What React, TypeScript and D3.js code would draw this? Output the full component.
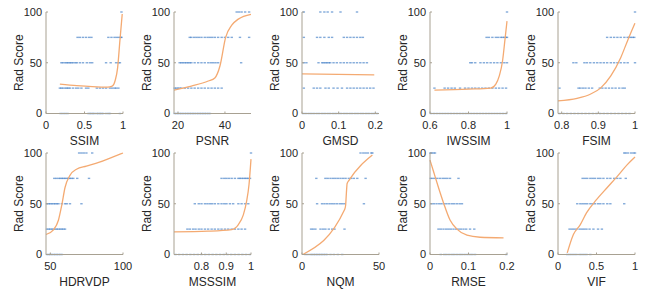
import React from 'react';
import * as d3 from 'd3';

type Levels = Record<number, number[]>;
type Fit = [number, number][];

const SCORE_DOMAIN: [number, number] = [0, 100];
const SCORE_TICKS = [0, 50, 100];
const Y_LABEL = 'Rad Score';

// ---- SSIM ----
const SSIM_PTS: Levels = {
  100: [0.98],
  75: [0.41, 0.44, 0.48, 0.52, 0.56, 0.59, 0.81, 0.85, 0.89, 0.92, 0.95, 0.97, 0.98],
  50: [0.2, 0.22, 0.25, 0.27, 0.29, 0.31, 0.33, 0.35, 0.38, 0.4, 0.44, 0.48, 0.53, 0.57, 0.6, 0.78, 0.84, 0.91, 0.94, 0.96],
  25: [0.18, 0.2, 0.22, 0.25, 0.27, 0.29, 0.31, 0.35, 0.39, 0.42, 0.46, 0.52, 0.55, 0.66, 0.7, 0.74, 0.78, 0.83, 0.86, 0.89, 0.91, 0.94],
  0: [0.19, 0.22, 0.25, 0.28, 0.55, 0.57, 0.59, 0.61, 0.63, 0.66, 0.68, 0.7, 0.72, 0.74, 0.78, 0.81, 0.83, 0.96],
};
const SSIM_FIT: Fit = [[0.18, 29], [0.4, 27.5], [0.6, 26.5], [0.8, 26], [0.86, 27], [0.9, 33], [0.93, 45], [0.96, 72], [0.99, 98]];

// ---- PSNR ----
const PSNR_PTS: Levels = {
  100: [45.0, 46.0, 47.1, 48.6, 50.3],
  75: [25.0, 25.7, 26.9, 27.9, 28.9, 30.0, 31.4, 32.6, 33.6, 34.6, 35.7, 37.1, 38.6, 40.0, 41.4, 42.9, 46.4, 50.3],
  50: [20.7, 21.4, 22.1, 22.9, 23.6, 24.3, 25.0, 25.7, 27.1, 28.6, 30.0, 31.4, 32.9, 34.0, 35.0, 36.0, 37.1, 46.9],
  25: [18.6, 19.3, 20, 20.7, 21.4, 22.9, 24.3, 25.7, 27.1, 28.6, 30, 31.4, 32.9, 34.3, 35.7, 37.1, 38.6],
  0: [18.6, 19.3, 20, 20.7, 21.4, 22.1, 22.9, 23.6, 24.3, 25, 25.7, 26.4, 27.1, 27.9, 28.6, 29.3, 30, 30.7, 31.4, 32.1, 32.9, 33.6],
};
const PSNR_FIT: Fit = [[18.3, 23], [25.7, 27], [32.9, 32], [35.7, 35], [37.9, 47], [40.3, 75], [42.9, 87], [45.7, 93], [51.1, 97.7]];

// ---- GMSD ----
const GMSD_PTS: Levels = {
  100: [0.005, 0.05, 0.061, 0.07, 0.082, 0.105, 0.15],
  75: [0.005, 0.041, 0.05, 0.061, 0.073, 0.082, 0.114, 0.123, 0.132, 0.141, 0.15, 0.159, 0.166],
  50: [0.005, 0.012, 0.045, 0.055, 0.059, 0.064, 0.068, 0.073, 0.077, 0.086, 0.095, 0.105, 0.114, 0.123, 0.132, 0.141, 0.15, 0.159, 0.168, 0.177],
  25: [0.005, 0.032, 0.041, 0.05, 0.064, 0.073, 0.086, 0.097, 0.109, 0.123, 0.132, 0.141, 0.15, 0.159, 0.168, 0.177, 0.186, 0.195],
  0: [0.003, 0.01, 0.018, 0.025, 0.032, 0.04, 0.047, 0.055, 0.062, 0.07, 0.077, 0.085, 0.092, 0.1, 0.107, 0.115, 0.122, 0.13, 0.137, 0.145, 0.152, 0.16, 0.167, 0.175, 0.182, 0.19, 0.197, 0.205],
};
const GMSD_FIT: Fit = [[0, 39], [0.197, 38]];

// ---- IWSSIM ----
const IWSSIM_PTS: Levels = {
  100: [1.0],
  75: [0.894, 0.906, 0.924, 0.942, 0.954, 0.968, 0.977, 0.986, 0.995, 1.0],
  50: [0.809, 0.818, 0.835, 0.862, 0.88, 0.897, 0.915, 0.933, 0.95, 0.968, 0.986, 1.0],
  25: [0.623, 0.676, 0.694, 0.712, 0.729, 0.756, 0.782, 0.8, 0.818, 0.835, 0.853, 0.871, 0.888, 0.906, 0.924, 0.942, 0.959, 0.977, 0.995],
  0: [0.605, 0.62, 0.635, 0.65, 0.665, 0.68, 0.695, 0.71, 0.725, 0.74, 0.755, 0.77, 0.785, 0.8, 0.815, 0.83, 0.845, 0.86, 0.875, 0.89, 0.905, 0.92, 0.935, 0.95, 0.965, 0.98, 0.995],
};
const IWSSIM_FIT: Fit = [[0.623, 23], [0.8, 24], [0.915, 25], [0.942, 29], [0.96, 37], [0.977, 52], [0.989, 72], [1.0, 91]];

// ---- FSIM ----
const FSIM_PTS: Levels = {
  100: [1.0],
  75: [0.924, 0.934, 0.943, 0.952, 0.961, 0.971, 0.98, 0.984, 0.989, 0.994, 0.998],
  50: [0.832, 0.84, 0.862, 0.869, 0.878, 0.888, 0.897, 0.906, 0.915, 0.924, 0.934, 0.943, 0.952, 0.961, 0.971, 0.98, 1.0],
  25: [0.794, 0.846, 0.851, 0.858, 0.865, 0.874, 0.883, 0.904, 0.911, 0.92, 0.929, 0.938, 0.947, 0.957, 0.966, 0.972],
  0: [0.794, 0.805, 0.815, 0.825, 0.835, 0.845, 0.855, 0.865, 0.875, 0.885, 0.895, 0.905, 0.915, 0.925, 0.935, 0.945, 0.955, 0.965, 0.975, 0.985],
};
const FSIM_FIT: Fit = [[0.79, 12.5], [0.842, 15], [0.878, 19], [0.906, 25], [0.934, 37], [0.961, 55], [0.98, 72], [1.0, 89]];

// ---- HDRVDP ----
const HDRVDP_PTS: Levels = {
  100: [69.8, 71.4, 73, 74.8, 78.8],
  75: [52.7, 54.1, 55.6, 56.8, 57.9, 59, 60.1, 61.3, 62.4, 63.5, 64.6, 65.8, 68.5, 76.6],
  50: [47.7, 48.9, 50, 51.1, 52.3, 53.4, 54.5, 55.6, 57.9, 60.1, 61.3, 63.5, 71.4],
  25: [47.7, 48.9, 50, 51.1, 52.3, 53.4, 54.5, 55.6, 56.8, 57.9, 59, 60.1],
  0: [47.7, 48.9, 50, 51.1, 52.3, 53.4, 54.5, 55.6, 56.8, 57.9],
};
const HDRVDP_FIT: Fit = [[47, 19.7], [52.3, 24.6], [55.6, 34], [57.9, 49], [60.1, 66], [63.5, 78], [68, 84], [74.8, 87], [83.8, 91], [92.8, 96], [100, 100]];

// ---- MSSSIM ----
const MSSSIM_PTS: Levels = {
  100: [1.0],
  75: [0.881, 0.892, 0.901, 0.911, 0.922, 0.935, 0.949, 0.955, 0.962, 0.969, 0.976, 0.982, 0.989, 0.996],
  50: [0.773, 0.789, 0.8, 0.814, 0.824, 0.834, 0.843, 0.854, 0.868, 0.881, 0.892, 0.901, 0.915, 0.928, 0.949, 0.962, 0.976, 0.989],
  25: [0.743, 0.753, 0.766, 0.776, 0.789, 0.8, 0.814, 0.827, 0.841, 0.854, 0.868, 0.881, 0.895, 0.908, 0.922, 0.935, 0.949, 0.962, 0.976],
  0: [0.695, 0.71, 0.725, 0.74, 0.755, 0.77, 0.785, 0.8, 0.815, 0.83, 0.845, 0.86, 0.875, 0.89, 0.905, 0.92, 0.935, 0.95, 0.965, 0.98, 0.995],
};
const MSSSIM_FIT: Fit = [[0.689, 22.3], [0.827, 23], [0.922, 24.6], [0.949, 29.5], [0.969, 39], [0.982, 52], [0.992, 69], [1.0, 94]];

// ---- NQM ----
const NQM_PTS: Levels = {
  100: [38, 39.8, 41.3, 42.8, 45, 45.7],
  75: [9.3, 15.2, 16.7, 18.5, 20.2, 21.7, 23.3, 25, 26.7, 28.3, 30.4, 32, 33.7, 35.9, 41.3],
  50: [9.8, 13, 14.6, 16.3, 18, 19.6, 21.1, 22.8, 24.6, 26.1, 27.6, 40.2],
  25: [5.9, 7.2, 8.7, 12, 13.7, 15.2, 17.4, 19.6, 21.1, 27.6],
  0: [2.2, 3.7, 5.4, 6.5, 7.6, 8.7, 9.8, 10.9, 12, 13, 14.1, 15.2, 16.3, 18.5, 20.7, 23.3, 26.1],
};
const NQM_FIT: Fit = [[0.6, 0], [27.6, 44], [28.3, 48], [28.8, 60], [29.3, 70], [30.5, 73], [45.7, 98]];

// ---- RMSE ----
const RMSE_PTS: Levels = {
  100: [0.001, 0.004, 0.009, 0.013],
  75: [0.002, 0.007, 0.013, 0.019, 0.026, 0.033, 0.039, 0.045, 0.052, 0.074],
  50: [0.004, 0.01, 0.017, 0.024, 0.03, 0.037, 0.043, 0.05, 0.057, 0.063, 0.07, 0.077, 0.083],
  25: [0.022, 0.028, 0.035, 0.042, 0.048, 0.054, 0.061, 0.068, 0.074, 0.08, 0.087, 0.094, 0.104, 0.115],
  0: [0.028, 0.037, 0.043, 0.05, 0.057, 0.063, 0.07, 0.077, 0.083, 0.09, 0.097, 0.104, 0.11, 0.117, 0.198],
};
const RMSE_FIT: Fit = [[0, 93], [0.009, 82], [0.022, 66], [0.035, 51], [0.052, 34], [0.07, 25], [0.096, 19], [0.13, 17], [0.191, 16.4]];

// ---- VIF ----
const VIF_PTS: Levels = {
  100: [0.86, 0.88, 0.91, 0.95, 0.98, 1.0],
  75: [0.32, 0.35, 0.38, 0.42, 0.45, 0.48, 0.52, 0.55, 0.59, 0.64, 0.68, 0.73, 0.77, 0.81, 0.88],
  50: [0.25, 0.29, 0.32, 0.35, 0.38, 0.42, 0.45, 0.48, 0.52, 0.55, 0.59, 0.64, 0.68, 0.86],
  25: [0.15, 0.18, 0.21, 0.24, 0.28, 0.31, 0.34, 0.37, 0.41, 0.46, 0.52, 0.57],
  0: [0.12, 0.15, 0.18, 0.21, 0.24, 0.28, 0.31, 0.34, 0.37, 0.42],
};
const VIF_FIT: Fit = [[0.12, 1.6], [0.2, 19.7], [0.29, 29.5], [0.37, 41], [0.5, 54], [0.64, 66], [0.77, 77], [0.9, 88.5], [1.0, 96]];

const METRIC_NAMES = ['SSIM', 'PSNR', 'GMSD', 'IWSSIM', 'FSIM', 'HDRVDP', 'MSSSIM', 'NQM', 'RMSE', 'VIF'];
const X_DOMAINS: [number, number][] = [
  [0, 1], [18.3, 51.1], [0, 0.21], [0.6, 1], [0.79, 1],
  [47, 100], [0.689, 1], [0, 50], [0, 0.2], [0, 1],
];
const X_TICKS: number[][] = [
  [0, 0.5, 1], [20, 40], [0, 0.1, 0.2], [0.6, 0.8, 1], [0.8, 0.9, 1],
  [50, 100], [0.8, 0.9, 1], [0, 50], [0, 0.1, 0.2], [0, 0.5, 1],
];
const POINTS: Levels[] = [SSIM_PTS, PSNR_PTS, GMSD_PTS, IWSSIM_PTS, FSIM_PTS, HDRVDP_PTS, MSSSIM_PTS, NQM_PTS, RMSE_PTS, VIF_PTS];
const FITS: Fit[] = [SSIM_FIT, PSNR_FIT, GMSD_FIT, IWSSIM_FIT, FSIM_FIT, HDRVDP_FIT, MSSSIM_FIT, NQM_FIT, RMSE_FIT, VIF_FIT];

const W = 650;
const H = 290;
const COL_LEFT = [46, 174, 302, 430, 558];
const ROW_TOP = [12, 153];
const PW = 77;
const PH = 101.5;
const AXIS_COLOR = '#a8a192';
const TEXT_COLOR = '#262626';
const DOT_COLOR = '#3f7cc4';
const FIT_COLOR = '#f4aa72';
const FONT = '"Liberation Sans", Arial, sans-serif';

function Panel({ idx }: { idx: number }) {
  const col = idx % 5;
  const row = Math.floor(idx / 5);
  const left = COL_LEFT[col];
  const top = ROW_TOP[row];
  const x = d3.scaleLinear().domain(X_DOMAINS[idx]).range([left, left + PW]);
  const y = d3.scaleLinear().domain(SCORE_DOMAIN).range([top + PH, top]);
  const bottom = top + PH;
  const line = d3
    .line<[number, number]>()
    .x((d) => x(d[0]))
    .y((d) => y(d[1]))
    .curve(d3.curveMonotoneX);
  const pts = POINTS[idx];
  const levels = Object.keys(pts).map(Number);
  return (
    <g>
      {levels.map((lv) =>
        pts[lv].map((v, i) => (
          <rect
            key={`${lv}-${i}`}
            x={x(v) - 1.2}
            y={y(lv) - 0.7}
            width={2.4}
            height={1.4}
            fill={DOT_COLOR}
            opacity={0.65}
          />
        ))
      )}
      <path d={line(FITS[idx]) || ''} fill="none" stroke={FIT_COLOR} strokeWidth={1.3} />
      <line x1={left} x2={left} y1={top} y2={bottom} stroke={AXIS_COLOR} strokeWidth={1} />
      <line x1={left} x2={left + PW} y1={bottom} y2={bottom} stroke={AXIS_COLOR} strokeWidth={1} />
      {SCORE_TICKS.map((t) => (
        <g key={`y${t}`}>
          <line x1={left} x2={left + 2} y1={y(t)} y2={y(t)} stroke={AXIS_COLOR} />
          <text
            x={left - 4}
            y={y(t)}
            dy="0.35em"
            textAnchor="end"
            fontSize={11}
            fontFamily={FONT}
            fill={TEXT_COLOR}
          >
            {t}
          </text>
        </g>
      ))}
      {X_TICKS[idx].map((t) => (
        <g key={`x${t}`}>
          <line x1={x(t)} x2={x(t)} y1={bottom} y2={bottom - 2} stroke={AXIS_COLOR} />
          <text
            x={x(t)}
            y={bottom + 15.5}
            textAnchor="middle"
            fontSize={11}
            fontFamily={FONT}
            fill={TEXT_COLOR}
          >
            {String(t)}
          </text>
        </g>
      ))}
      <text
        x={left + PW / 2}
        y={bottom + 31}
        textAnchor="middle"
        fontSize={12}
        fontFamily={FONT}
        fill={TEXT_COLOR}
      >
        {METRIC_NAMES[idx]}
      </text>
      <text
        transform={`translate(${left - 23},${top + PH / 2}) rotate(-90)`}
        textAnchor="middle"
        fontSize={12}
        fontFamily={FONT}
        fill={TEXT_COLOR}
      >
        {Y_LABEL}
      </text>
    </g>
  );
}

export default function App() {
  return (
    <svg
      width={W}
      height={H}
      viewBox={`0 0 ${W} ${H}`}
      style={{ position: 'absolute', left: 0, top: 0, background: '#fff' }}
    >
      {METRIC_NAMES.map((_, i) => (
        <Panel key={i} idx={i} />
      ))}
    </svg>
  );
}
